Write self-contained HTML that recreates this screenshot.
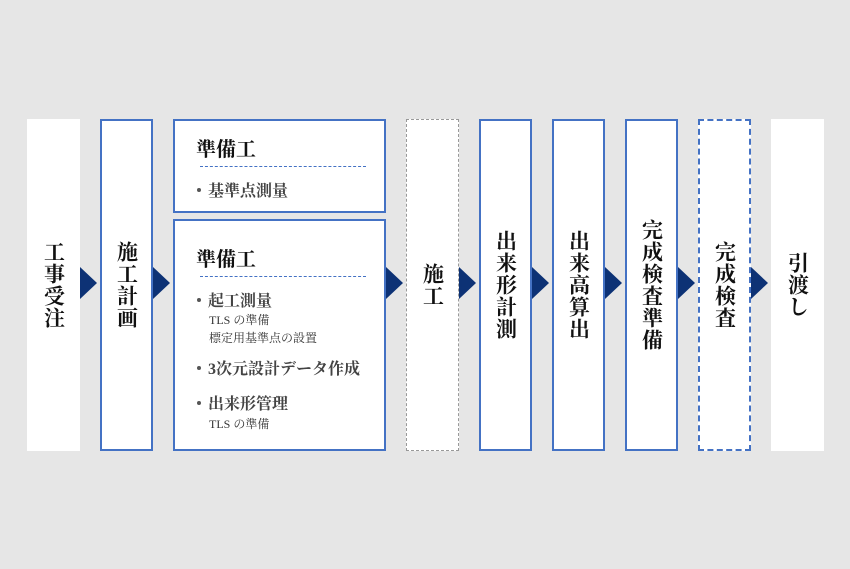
<!DOCTYPE html>
<html><head><meta charset="utf-8"><style>
body{margin:0;width:850px;height:569px;background:#e6e6e6;position:relative;overflow:hidden;font-family:"Liberation Serif","Noto Serif CJK SC",serif;}
.b{position:absolute;top:119px;height:332px;box-sizing:border-box;background:#fff;display:flex;align-items:center;justify-content:center;}
.bl{border:2px solid #4472c4;}
.v{writing-mode:vertical-rl;font-weight:bold;font-size:21px;line-height:22px;letter-spacing:1px;color:#111;}
.a{position:absolute;top:267px;width:0;height:0;border-top:16px solid transparent;border-bottom:16px solid transparent;border-left:17px solid #0d3275;}
.p{position:absolute;left:173px;width:213px;box-sizing:border-box;border:2px solid #4472c4;background:#fff;color:#222;}
.h{position:absolute;left:21px;font-weight:bold;font-size:20px;color:#111;}
.hr{position:absolute;left:25px;width:166px;border-top:1px dashed #4472c4;}
.i{position:absolute;left:33px;font-size:16px;font-weight:bold;color:#444;white-space:nowrap;}
.i:before{content:"";position:absolute;left:-11px;top:10px;width:4px;height:4px;border-radius:2px;background:#555;}
.s{position:absolute;left:34px;font-size:12px;color:#333;white-space:nowrap;}
</style></head><body>
<div class="b" style="left:27px;width:53px"><span class="v">工事受注</span></div>
<div class="a" style="left:80px"></div>
<div class="b bl" style="left:100px;width:53px"><span class="v">施工計画</span></div>
<div class="a" style="left:153px"></div>
<div class="p" style="top:119px;height:94px">
<div class="h" style="top:12px">準備工</div>
<div class="hr" style="top:45px"></div>
<div class="i" style="top:57px">基準点測量</div>
</div>
<div class="p" style="top:219px;height:232px">
<div class="h" style="top:22px">準備工</div>
<div class="hr" style="top:55px"></div>
<div class="i" style="top:67px">起工測量</div>
<div class="s" style="top:90px">TLS の準備</div>
<div class="s" style="top:108px">標定用基準点の設置</div>
<div class="i" style="top:135px">3次元設計データ作成</div>
<div class="i" style="top:170px">出来形管理</div>
<div class="s" style="top:194px">TLS の準備</div>
</div>
<div class="a" style="left:386px"></div>
<div class="b" style="left:406px;width:53px;border:1px dashed #999"><span class="v">施工</span></div>
<div class="a" style="left:459px"></div>
<div class="b bl" style="left:479px;width:53px"><span class="v">出来形計測</span></div>
<div class="a" style="left:532px"></div>
<div class="b bl" style="left:552px;width:53px"><span class="v">出来高算出</span></div>
<div class="a" style="left:605px"></div>
<div class="b bl" style="left:625px;width:53px"><span class="v">完成検査準備</span></div>
<div class="a" style="left:678px"></div>
<div class="b" style="left:698px;width:53px;border:2px dashed #4472c4"><span class="v">完成検査</span></div>
<div class="a" style="left:751px"></div>
<div class="b" style="left:771px;width:53px"><span class="v">引渡し</span></div>
</body></html>
